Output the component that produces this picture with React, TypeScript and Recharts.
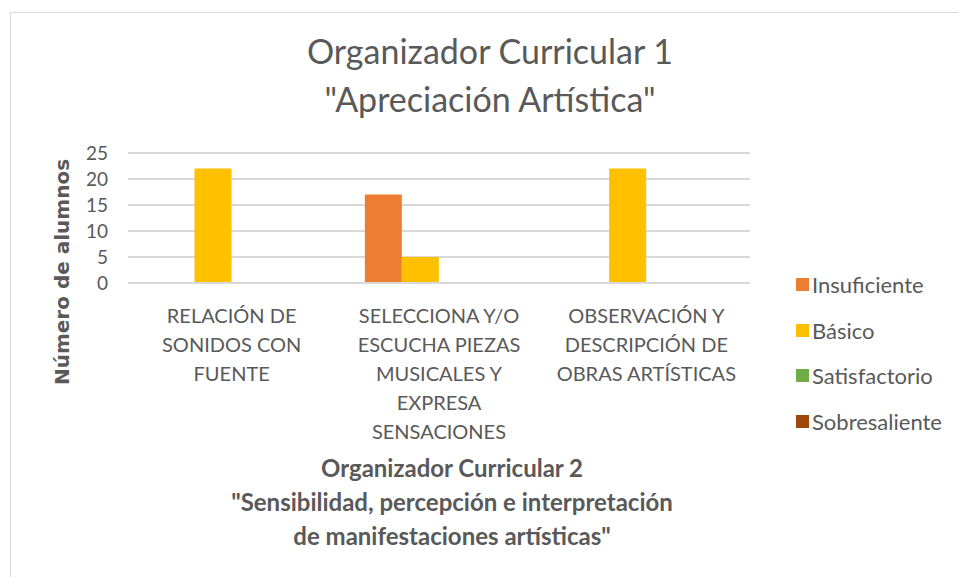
import React from "react";
import { BarChart, Bar, XAxis, YAxis, CartesianGrid } from "recharts";

const categories = [
  "RELACIÓN DE\nSONIDOS CON\nFUENTE",
  "SELECCIONA Y/O\nESCUCHA PIEZAS\nMUSICALES Y\nEXPRESA\nSENSACIONES",
  "OBSERVACIÓN Y\nDESCRIPCIÓN DE\nOBRAS ARTÍSTICAS",
];
const insuficiente = [0, 17, 0];
const basico = [22, 5, 22];
const satisfactorio = [0, 0, 0];
const sobresaliente = [0, 0, 0];
const yTicks = [0, 5, 10, 15, 20, 25];
const titleLines = ["Organizador Curricular 1", "\"Apreciación Artística\""];
const xTitleLines = [
  "Organizador Curricular 2",
  "\"Sensibilidad, percepción e interpretación",
  "de manifestaciones artísticas\"",
];
const yTitle = "Número de alumnos";

const series = [
  { key: "Insuficiente", values: insuficiente, color: "#ED7D31" },
  { key: "Básico", values: basico, color: "#FFC000" },
  { key: "Satisfactorio", values: satisfactorio, color: "#70AD47" },
  { key: "Sobresaliente", values: sobresaliente, color: "#9E480E" },
];

const data = categories.map((c, i) => {
  const row: any = { name: c };
  series.forEach((s) => (row[s.key] = s.values[i]));
  return row;
});

const FONT = "Lato, 'Open Sans', sans-serif";
const GREY = "#595959";

const CatTick = (props: any) => {
  const { x, y, payload } = props;
  const lines = String(payload.value).split("\n");
  return (
    <text x={x} y={y} textAnchor="middle" fill={GREY} fontSize={20} fontFamily={FONT}>
      {lines.map((l, i) => (
        <tspan key={i} x={x} y={y + 32 + i * 29}>
          {l}
        </tspan>
      ))}
    </text>
  );
};

export default function App() {
  return (
    <div style={{ position: "absolute", left: 0, top: 0, width: 958, height: 577, background: "#fff", overflow: "hidden", fontFamily: FONT }}>
      <div style={{ position: "absolute", left: 10, top: 12, width: 960, height: 580, border: "1px solid #d9d9d9" }} />
      <div style={{ position: "absolute", left: 0, top: 27, width: 980, textAlign: "center", color: GREY, fontSize: 34, lineHeight: "48px" }}>
        {titleLines.map((t, i) => (
          <div key={i}>{t}</div>
        ))}
      </div>
      <div style={{ position: "absolute", left: 0, top: 0 }}>
        <BarChart
          width={958}
          height={577}
          data={data}
          margin={{ top: 153, right: 208, bottom: 134, left: 88 }}
          barCategoryGap={29.5}
          barGap={0}
        >
          <CartesianGrid vertical={false} stroke="#d9d9d9" strokeWidth={2} />
          <XAxis
            dataKey="name"
            height={160}
            tick={<CatTick />}
            tickLine={false}
            axisLine={{ stroke: "#d9d9d9", strokeWidth: 2 }}
            interval={0}
          />
          <YAxis
            width={40}
            domain={[0, 25]}
            ticks={yTicks}
            interval={0}
            tickLine={false}
            axisLine={false}
            tick={{ fill: GREY, fontSize: 19, fontFamily: FONT }}
            tickMargin={14}
          />
          {series.map((s) => (
            <Bar key={s.key} dataKey={s.key} fill={s.color} isAnimationActive={false} />
          ))}
          <text
            x={62}
            y={272}
            transform="rotate(-90 62 272)"
            textAnchor="middle"
            dominantBaseline="central"
            fill={GREY}
            fontSize={20}
            fontWeight="bold"
            fontFamily="'DejaVu Sans', sans-serif"
          >
            {yTitle}
          </text>
        </BarChart>
      </div>
      <div style={{ position: "absolute", left: 0, top: 451, width: 904, textAlign: "center", color: GREY, fontSize: 24, fontWeight: "bold", lineHeight: "34px" }}>
        {xTitleLines.map((t, i) => (
          <div key={i}>{t}</div>
        ))}
      </div>
      <div style={{ position: "absolute", left: 796, top: 262, color: GREY, fontSize: 22 }}>
        {series.map((s) => (
          <div key={s.key} style={{ display: "flex", alignItems: "center", height: 45.5 }}>
            <div style={{ width: 13, height: 13, background: s.color, marginRight: 3 }} />
            <span>{s.key}</span>
          </div>
        ))}
      </div>
    </div>
  );
}
